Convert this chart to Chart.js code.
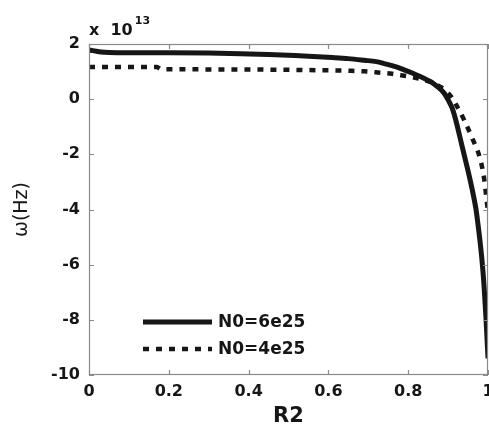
<!DOCTYPE html>
<html>
<head>
<meta charset="utf-8">
<script src="https://cdn.jsdelivr.net/npm/chart.js@4.4.1/dist/chart.umd.min.js"></script>
<style>
html,body{margin:0;padding:0;background:#fff;}
#wrap{width:489px;height:429px;position:relative;}
</style>
</head>
<body>
<div id="wrap"><canvas id="c" width="489" height="429"></canvas></div>
<script>
// Values of ω in units of 1e13 Hz
const seriesNames = ['N0=6e25', 'N0=4e25'];
const r2Solid = [0, 0.01, 0.03, 0.05, 0.1, 0.2, 0.3, 0.38, 0.45, 0.5, 0.55, 0.61, 0.65, 0.69, 0.72, 0.74, 0.77, 0.79, 0.81, 0.83, 0.85, 0.86, 0.87, 0.89, 0.90, 0.91, 0.92, 0.93, 0.94, 0.95, 0.96, 0.97, 0.975, 0.98, 0.985, 0.99, 0.995, 1.0];
const omegaSolid = [1.78, 1.76, 1.71, 1.69, 1.68, 1.68, 1.67, 1.65, 1.62, 1.59, 1.56, 1.51, 1.47, 1.41, 1.36, 1.29, 1.17, 1.06, 0.95, 0.82, 0.68, 0.6, 0.49, 0.22, -0.02, -0.32, -0.8, -1.4, -2.0, -2.6, -3.25, -4.0, -4.55, -5.15, -5.85, -6.75, -7.95, -9.4];
const r2Dotted = [0, 0.1, 0.17, 0.18, 0.3, 0.45, 0.57, 0.65, 0.69, 0.73, 0.76, 0.79, 0.81, 0.84, 0.86, 0.88, 0.89, 0.91, 0.92, 0.94, 0.96, 0.98, 0.99, 1.0];
const omegaDotted = [1.17, 1.17, 1.17, 1.09, 1.08, 1.07, 1.05, 1.03, 1.01, 0.96, 0.92, 0.85, 0.8, 0.7, 0.6, 0.45, 0.36, 0.05, -0.2, -0.75, -1.4, -2.15, -2.85, -4.1];
const xTicks = [0, 0.2, 0.4, 0.6, 0.8, 1];
const yTicks = [-10, -8, -6, -4, -2, 0, 2];
const exponentLabel = ['x  10', '13'];

const FONT = "'DejaVu Sans', 'Liberation Sans', Arial, sans-serif";
const INK = '#161616';
const AXIS = '#8a8a8a';

const toPts = (xs, ys) => xs.map((x, i) => ({x: x, y: ys[i]}));

const boxPlugin = {
  id: 'boxPlugin',
  afterDatasetsDraw(chart) {
    const {ctx, chartArea: a, scales} = chart;
    ctx.save();
    ctx.strokeStyle = AXIS;
    ctx.lineWidth = 1.2;
    ctx.strokeRect(a.left + 0.5, a.top + 0.5, a.right - a.left - 1, a.bottom - a.top - 1);
    const tl = 5;
    ctx.beginPath();
    xTicks.forEach(v => {
      const px = Math.round(scales.x.getPixelForValue(v)) + 0.5;
      ctx.moveTo(px, a.bottom); ctx.lineTo(px, a.bottom - tl);
      ctx.moveTo(px, a.top); ctx.lineTo(px, a.top + tl);
    });
    yTicks.forEach(v => {
      const py = Math.round(scales.y.getPixelForValue(v)) + 0.5;
      ctx.moveTo(a.left, py); ctx.lineTo(a.left + tl, py);
      ctx.moveTo(a.right, py); ctx.lineTo(a.right - tl, py);
    });
    ctx.stroke();

    // legend
    const lx0 = a.left + 54, lx1 = a.left + 123;
    const ly1 = 322, ly2 = 349;
    ctx.strokeStyle = INK;
    ctx.lineCap = 'butt';
    ctx.lineWidth = 5;
    ctx.setLineDash([]);
    ctx.beginPath(); ctx.moveTo(lx0, ly1); ctx.lineTo(lx1, ly1); ctx.stroke();
    ctx.lineWidth = 4.5;
    ctx.setLineDash([6, 7]);
    ctx.beginPath(); ctx.moveTo(lx0, ly2); ctx.lineTo(lx1, ly2); ctx.stroke();
    ctx.setLineDash([]);
    ctx.fillStyle = INK;
    ctx.font = 'bold 17px ' + FONT;
    ctx.textBaseline = 'middle';
    ctx.textAlign = 'left';
    ctx.fillText(seriesNames[0], 218, ly1 + 1);
    ctx.fillText(seriesNames[1], 218, ly2 + 1);

    // exponent label
    ctx.textBaseline = 'alphabetic';
    ctx.font = 'bold 16px ' + FONT;
    ctx.fillText(exponentLabel[0], 89, 35);
    const w = ctx.measureText(exponentLabel[0]).width;
    ctx.font = 'bold 11px ' + FONT;
    ctx.fillText(exponentLabel[1], 89 + w + 2, 24);
    ctx.restore();
  }
};

new Chart(document.getElementById('c'), {
  type: 'line',
  data: {
    datasets: [
      {
        label: seriesNames[0],
        data: toPts(r2Solid, omegaSolid),
        borderColor: INK,
        borderWidth: 5,
        pointRadius: 0,
        cubicInterpolationMode: 'monotone',
        fill: false
      },
      {
        label: seriesNames[1],
        data: toPts(r2Dotted, omegaDotted),
        borderColor: INK,
        borderWidth: 4.5,
        borderDash: [6, 7],
        borderCapStyle: 'butt',
        pointRadius: 0,
        cubicInterpolationMode: 'monotone',
        fill: false
      }
    ]
  },
  options: {
    responsive: false,
    animation: false,
    devicePixelRatio: 1,
    layout: {padding: {top: 44, right: 1, left: 0, bottom: 0}},
    plugins: {legend: {display: false}, tooltip: {enabled: false}},
    scales: {
      x: {
        type: 'linear',
        min: 0, max: 1,
        afterBuildTicks: s => { s.ticks = xTicks.map(v => ({value: v})); },
        afterFit: s => { s.height = 54; s.paddingLeft = 0; s.paddingRight = 0; },
        grid: {display: false, drawTicks: false},
        border: {display: false},
        ticks: {
          padding: 7,
          color: INK,
          font: {family: FONT, size: 16, weight: 'bold'},
          autoSkip: false,
          maxRotation: 0,
          callback: v => String(Number(v.toFixed(1)))
        },
        title: {display: true, text: 'R2', color: INK, font: {family: FONT, size: 21, weight: 'bold'}, padding: {top: 0, bottom: 0}}
      },
      y: {
        type: 'linear',
        min: -10, max: 2,
        afterBuildTicks: s => { s.ticks = yTicks.map(v => ({value: v})); },
        afterFit: s => { s.width = 89; s.paddingTop = 0; s.paddingBottom = 0; },
        grid: {display: false, drawTicks: false},
        border: {display: false},
        ticks: {
          padding: 9,
          color: INK,
          font: {family: FONT, size: 16, weight: 'bold'},
          autoSkip: false,
          callback: v => String(v)
        },
        title: {display: true, text: 'ω(Hz)', color: INK, font: {family: FONT, size: 19, weight: 'normal'}, padding: {top: 11, bottom: 0}}
      }
    }
  },
  plugins: [boxPlugin]
});
</script>
</body>
</html>
